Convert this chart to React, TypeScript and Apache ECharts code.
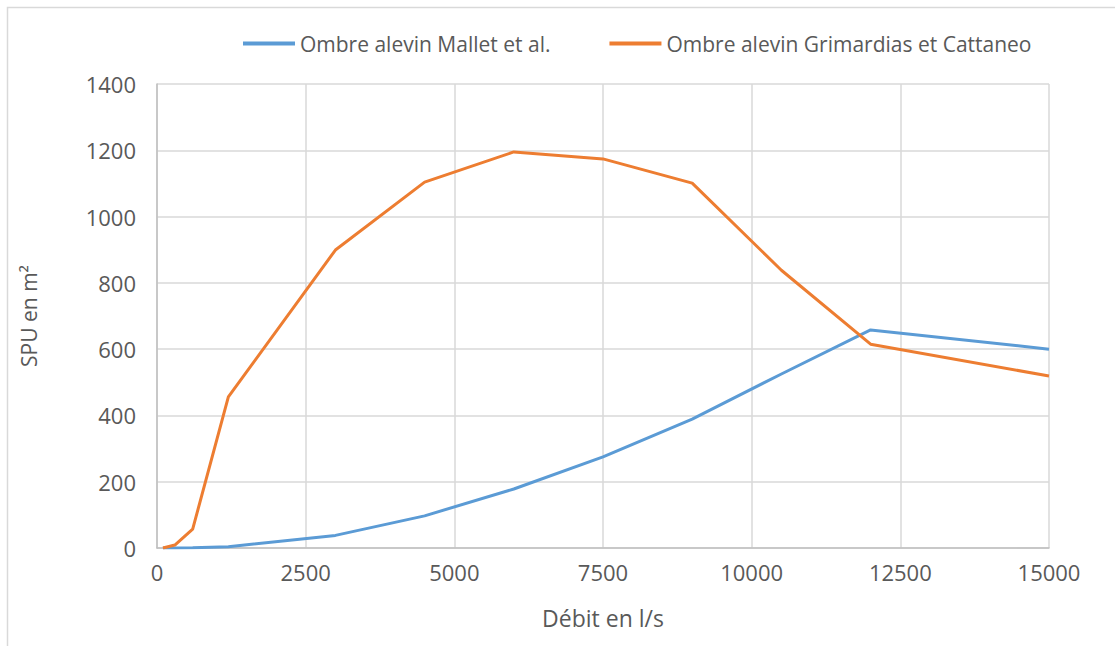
import React, { useEffect, useRef } from "react";
import * as echarts from "echarts";

const debit = [100, 300, 600, 1200, 3000, 4500, 6000, 7500, 9000, 10500, 12000, 15000];
const mallet = [0, 0, 1, 4, 38, 97, 178, 275, 389, 525, 658, 600];
const grimardias = [0, 9, 57, 456, 899, 1104, 1195, 1174, 1101, 838, 615, 519];
const seriesNames = ["Ombre alevin Mallet et al.", "Ombre alevin Grimardias et Cattaneo"];

const FONT = "Open Sans";
const TXT = "#595959";

export default function App() {
  const ref = useRef<HTMLDivElement>(null);
  useEffect(() => {
    if (!ref.current) return;
    const chart = echarts.init(ref.current, undefined, { renderer: "svg" });
    chart.setOption({
      animation: false,
      backgroundColor: "#ffffff",
      textStyle: { fontFamily: FONT },
      graphic: [
        {
          type: "rect",
          shape: { x: 7.5, y: 7.5, width: 1200, height: 800 },
          style: { fill: "none", stroke: "#d9d9d9", lineWidth: 1.5 },
          silent: true,
        },
      ],
      legend: {
        top: 28,
        left: 238,
        itemWidth: 52,
        itemHeight: 4,
        itemGap: 59,
        icon: "rect",
        textStyle: { fontFamily: FONT, fontSize: 21, color: TXT },
        data: seriesNames,
      },
      grid: { left: 157, right: 66, top: 84, bottom: 98 },
      xAxis: {
        type: "value",
        min: 0,
        max: 15000,
        interval: 2500,
        name: "Débit en l/s",
        nameLocation: "middle",
        nameGap: 58,
        nameTextStyle: { fontFamily: FONT, fontSize: 23, color: TXT },
        axisLine: { show: true, lineStyle: { color: "#bfbfbf", width: 1.5 } },
        axisTick: { show: false },
        axisLabel: { fontFamily: FONT, fontSize: 22, color: TXT, margin: 13, formatter: (v: number) => String(v) },
        splitLine: { show: true, lineStyle: { color: "#d9d9d9", width: 1.5 } },
      },
      yAxis: {
        type: "value",
        min: 0,
        max: 1400,
        interval: 200,
        name: "SPU en m²",
        nameLocation: "middle",
        nameGap: 118,
        nameRotate: 90,
        nameTextStyle: { fontFamily: FONT, fontSize: 21, color: TXT },
        axisLine: { show: true, lineStyle: { color: "#bfbfbf", width: 1.5 } },
        axisTick: { show: false },
        axisLabel: { fontFamily: FONT, fontSize: 22, color: TXT, margin: 21, formatter: (v: number) => String(v) },
        splitLine: { show: true, lineStyle: { color: "#d9d9d9", width: 1.5 } },
      },
      series: [
        {
          name: seriesNames[0],
          type: "line",
          data: debit.map((d, i) => [d, mallet[i]]),
          showSymbol: false,
          lineStyle: { color: "#5b9bd5", width: 3 },
          itemStyle: { color: "#5b9bd5" },
        },
        {
          name: seriesNames[1],
          type: "line",
          data: debit.map((d, i) => [d, grimardias[i]]),
          showSymbol: false,
          lineStyle: { color: "#ed7d31", width: 3 },
          itemStyle: { color: "#ed7d31" },
        },
      ],
    });
    return () => chart.dispose();
  }, []);
  return (
    <div
      ref={ref}
      style={{ position: "absolute", left: 0, top: 0, width: 1115, height: 646 }}
    />
  );
}
